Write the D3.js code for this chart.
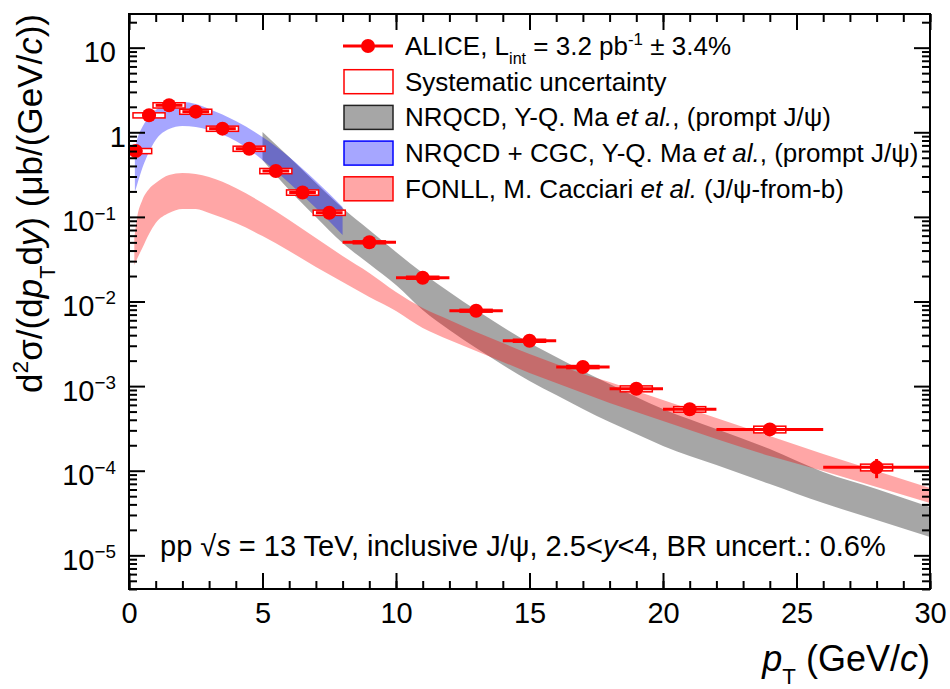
<!DOCTYPE html>
<html>
<head>
<meta charset="utf-8">
<script src="https://cdn.jsdelivr.net/npm/d3@7"></script>
<style>
  body { margin: 0; background: #fff; }
  text { font-family: "Liberation Sans", Arial, Helvetica, sans-serif; fill: #000; }
</style>
</head>
<body>
<svg id="chart" width="950" height="689"></svg>
<script>
// ALICE inclusive J/psi, pp 13 TeV, 2.5<y<4
var ptCenter = [0.25, 0.75, 1.5, 2.5, 3.5, 4.5, 5.5, 6.5, 7.5, 9, 11, 13, 15, 17, 19, 21, 24, 28];
var ptLow    = [0, 0.5, 1, 2, 3, 4, 5, 6, 7, 8, 10, 12, 14, 16, 18, 20, 22, 26];
var ptHigh   = [0.5, 1, 2, 3, 4, 5, 6, 7, 8, 10, 12, 14, 16, 18, 20, 22, 26, 30];
var xsec     = [0.601, 1.588, 2.085, 1.752, 1.104, 0.64, 0.3487, 0.1943, 0.1121, 0.0501, 0.0191,
                0.00778, 0.00344, 0.00168, 0.000931, 0.000532, 0.000308, 0.0001096];
var statErr  = [0.02, 0.04, 0.04, 0.03, 0.02, 0.012, 0.006, 0.004, 0.003, 0.0013, 0.0006,
                0.00027, 0.00014, 0.00008, 0.00005, 0.00003, 0.00002, 0.000028];
var sysErr   = [0.042, 0.11, 0.15, 0.12, 0.078, 0.045, 0.025, 0.014, 0.008, 0.002, 0.00077,
                0.0003, 0.00014, 0.00007, 0.000075, 0.00004, 0.000028, 0.00001];

// NRQCD (prompt), grey band
var nrqcdPt   = [5, 6, 7, 8, 9, 10, 11, 12, 13, 14, 15, 16, 17, 18, 19, 20, 22, 24, 26, 28, 30];
var nrqcdHigh = [1.008, 0.511, 0.2517, 0.1274, 0.07, 0.03847, 0.02173, 0.01295, 0.00793, 0.004994,
                 0.003232, 0.002208, 0.001509, 0.001059, 0.000743, 0.000536, 0.000311, 0.0001805,
                 9.65e-5, 6.08e-5, 3.72e-5];
var nrqcdLow  = [0.471, 0.208, 0.0997, 0.0491, 0.02775, 0.01567, 0.00793, 0.0046, 0.00282, 0.001776,
                 0.00115, 0.000785, 0.000536, 0.000376, 0.0002715, 0.000196, 0.0001168, 6.97e-5,
                 4.15e-5, 2.61e-5, 1.645e-5];

// NRQCD + CGC (prompt), blue band
var cgcPt   = [0.22, 0.3, 0.5, 0.75, 1, 1.5, 2, 2.5, 3, 4, 5, 6, 7, 8];
var cgcHigh = [0.618, 0.811, 1.156, 1.517, 1.835, 2.16, 2.28, 2.16, 1.886, 1.361, 0.88, 0.511, 0.2657, 0.131];
var cgcLow  = [0.197, 0.238, 0.378, 0.585, 0.811, 1.094, 1.187, 1.156, 1.065, 0.789, 0.471, 0.2517, 0.1274, 0.0611];

// FONLL (J/psi from b), red band
var fonllPt   = [0.2, 0.3, 0.5, 0.75, 1, 1.5, 2, 2.5, 3, 4, 5, 6, 7, 8, 9, 10, 11, 12, 13, 14, 15,
                 16, 17, 18, 19, 20, 22, 24, 26, 28, 30];
var fonllHigh = [0.0563, 0.097, 0.1585, 0.2138, 0.2517, 0.3128, 0.3304, 0.3214, 0.2963, 0.2196,
                 0.1459, 0.0919, 0.0563, 0.0345, 0.02173, 0.01295, 0.00838, 0.00604, 0.004359, 0.003232,
                 0.002394, 0.001825, 0.00139, 0.001117, 0.000875, 0.000685, 0.00042, 0.000257,
                 0.0001575, 9.91e-5, 6.25e-5];
var fonllLow  = [0.027, 0.0318, 0.0429, 0.0628, 0.0847, 0.1112, 0.124, 0.124, 0.1112, 0.0847,
                 0.0594, 0.0395, 0.0256, 0.017, 0.0113, 0.00773, 0.00486, 0.00351, 0.0026, 0.00193,
                 0.001428, 0.001088, 0.000829, 0.000631, 0.000494, 0.000387, 0.000237, 0.0001492,
                 9.91e-5, 6.41e-5, 4.15e-5];

var xMajor = [0, 5, 10, 15, 20, 25, 30];
var xMinor = d3.range(0, 31, 1);
var yMajor = [1e-5, 1e-4, 1e-3, 1e-2, 1e-1, 1, 10];

var svg = d3.select("#chart");
var padL = 129, padR = 930, padT = 14, padB = 589;

var x = d3.scaleLinear().domain([0, 30]).range([padL, padR]);
var y = d3.scaleLog().domain([4e-6, 25]).range([padB, padT]);

var yMinor = y.ticks().filter(function(v) {
  return yMajor.every(function(m) { return Math.abs(m - v) / m > 1e-6; });
});

// text with sub/superscripts and italics
function richText(sel, parts, size) {
  parts.forEach(function(p, i) {
    var ts = sel.append("tspan").text(p.t);
    var dy = 0;
    if (p.sub) { ts.attr("font-size", size * 0.62); dy = size * 0.36; }
    if (p.sup) { ts.attr("font-size", size * 0.65); dy = -size * 0.4; }
    var prev = i > 0 ? parts[i - 1] : null;
    var back = prev ? (prev.sub ? -size * 0.36 : prev.sup ? size * 0.4 : 0) : 0;
    if (dy + back) ts.attr("dy", dy + back);
    if (p.it) ts.attr("font-style", "italic");
  });
  return sel;
}

svg.append("clipPath").attr("id", "plot")
  .append("rect").attr("x", padL).attr("y", padT).attr("width", padR - padL).attr("height", padB - padT);

var plot = svg.append("g").attr("clip-path", "url(#plot)");

function band(pts, lo, hi) {
  return d3.area()
    .x(function(d, i) { return x(pts[i]); })
    .y0(function(d, i) { return y(lo[i]); })
    .y1(function(d, i) { return y(hi[i]); })
    .curve(d3.curveMonotoneX)(pts);
}

plot.append("path").attr("d", band(nrqcdPt, nrqcdLow, nrqcdHigh))
  .attr("fill", "#000").attr("fill-opacity", 0.35);
plot.append("path").attr("d", band(cgcPt, cgcLow, cgcHigh))
  .attr("fill", "#0000ff").attr("fill-opacity", 0.35);
plot.append("path").attr("d", band(fonllPt, fonllLow, fonllHigh))
  .attr("fill", "#ff0000").attr("fill-opacity", 0.35);

// systematic boxes
var boxHalf = 0.6;
plot.selectAll(".sys").data(ptCenter).enter().append("rect")
  .attr("x", function(d) { return x(d - boxHalf); })
  .attr("width", function(d) { return x(d + boxHalf) - x(d - boxHalf); })
  .attr("y", function(d, i) { return y(xsec[i] + sysErr[i]); })
  .attr("height", function(d, i) { return y(xsec[i] - sysErr[i]) - y(xsec[i] + sysErr[i]); })
  .attr("fill", "#fff").attr("stroke", "#ff0000").attr("stroke-width", 1.5);

// statistical bars
plot.selectAll(".hbar").data(ptCenter).enter().append("line")
  .attr("x1", function(d, i) { return x(ptLow[i]); })
  .attr("x2", function(d, i) { return x(ptHigh[i]); })
  .attr("y1", function(d, i) { return y(xsec[i]); })
  .attr("y2", function(d, i) { return y(xsec[i]); })
  .attr("stroke", "#ff0000").attr("stroke-width", 3);
plot.selectAll(".vbar").data(ptCenter).enter().append("line")
  .attr("x1", function(d) { return x(d); })
  .attr("x2", function(d) { return x(d); })
  .attr("y1", function(d, i) { return y(xsec[i] + statErr[i]); })
  .attr("y2", function(d, i) { return y(xsec[i] - statErr[i]); })
  .attr("stroke", "#ff0000").attr("stroke-width", 3);
plot.selectAll(".pt").data(ptCenter).enter().append("circle")
  .attr("cx", function(d) { return x(d); })
  .attr("cy", function(d, i) { return y(xsec[i]); })
  .attr("r", 7).attr("fill", "#ff0000");

// axes
function styleAxis(g) {
  g.select(".domain").remove();
  g.selectAll(".tick line").attr("stroke", "#000").attr("stroke-width", 2);
}
svg.append("g").attr("transform", "translate(0," + padB + ")")
  .call(d3.axisBottom(x).tickValues(xMinor).tickSize(-8).tickFormat("")).call(styleAxis);
svg.append("g").attr("transform", "translate(0," + padT + ")")
  .call(d3.axisTop(x).tickValues(xMinor).tickSize(-8).tickFormat("")).call(styleAxis);
svg.append("g").attr("transform", "translate(0," + padT + ")")
  .call(d3.axisTop(x).tickValues(xMajor).tickSize(-16).tickFormat("")).call(styleAxis);
var xAx = svg.append("g").attr("transform", "translate(0," + padB + ")")
  .call(d3.axisBottom(x).tickValues(xMajor).tickSize(-16).tickPadding(13).tickFormat(d3.format("d")))
  .call(styleAxis);
xAx.selectAll(".tick text").attr("font-size", 29);

svg.append("g").attr("transform", "translate(" + padL + ",0)")
  .call(d3.axisLeft(y).tickValues(yMinor).tickSize(-8).tickFormat("")).call(styleAxis);
svg.append("g").attr("transform", "translate(" + padR + ",0)")
  .call(d3.axisRight(y).tickValues(yMinor).tickSize(-8).tickFormat("")).call(styleAxis);
svg.append("g").attr("transform", "translate(" + padR + ",0)")
  .call(d3.axisRight(y).tickValues(yMajor).tickSize(-16).tickFormat("")).call(styleAxis);
var yAx = svg.append("g").attr("transform", "translate(" + padL + ",0)")
  .call(d3.axisLeft(y).tickValues(yMajor).tickSize(-16).tickFormat("")).call(styleAxis);
yAx.selectAll(".tick text").remove();
yAx.selectAll(".tick").each(function(d) {
  var e = Math.round(Math.log10(d));
  var t = d3.select(this).append("text").attr("text-anchor", "end")
    .attr("font-size", 29).attr("y", 14);
  if (e === 0) t.attr("x", -3).text("1");
  else if (e === 1) t.attr("x", -13).text("10");
  else {
    t.attr("x", -13);
    richText(t, [{t: "10"}, {t: "\u2212" + (-e), sup: true}], 29);
  }
});

// frame
svg.append("rect").attr("x", padL).attr("y", padT).attr("width", padR - padL).attr("height", padB - padT)
  .attr("fill", "none").attr("stroke", "#000").attr("stroke-width", 2);

// axis titles
richText(svg.append("text").attr("x", padR).attr("y", 671).attr("text-anchor", "end").attr("font-size", 36),
  [{t: "p", it: true}, {t: "T", sub: true}, {t: " (GeV/"}, {t: "c", it: true}, {t: ")"}], 36);
richText(svg.append("text").attr("transform", "translate(42," + padT + ") rotate(-90)")
  .attr("text-anchor", "end").attr("font-size", 35),
  [{t: "d"}, {t: "2", sup: true}, {t: "\u03c3/(d"}, {t: "p", it: true}, {t: "T", sub: true},
   {t: "d"}, {t: "y", it: true}, {t: ") (\u03bcb/(GeV/"}, {t: "c", it: true}, {t: "))"}], 35);

// legend
var legend = [
  {kind: "marker", parts: [{t: "ALICE, L"}, {t: "int", sub: true}, {t: " = 3.2 pb"}, {t: "-1", sup: true}, {t: " \u00b1 3.4%"}]},
  {kind: "box", fill: "#fff", op: 1, stroke: "#ff0000", parts: [{t: "Systematic uncertainty"}]},
  {kind: "box", fill: "#000", op: 0.35, stroke: "#222", parts: [{t: "NRQCD, Y-Q. Ma "}, {t: "et al.", it: true}, {t: ", (prompt J/\u03c8)"}]},
  {kind: "box", fill: "#0000ff", op: 0.35, stroke: "#0000ff", parts: [{t: "NRQCD + CGC, Y-Q. Ma "}, {t: "et al.", it: true}, {t: ", (prompt J/\u03c8)"}]},
  {kind: "box", fill: "#ff0000", op: 0.35, stroke: "#ff0000", parts: [{t: "FONLL, M. Cacciari "}, {t: "et al.", it: true}, {t: " (J/\u03c8-from-b)"}]}
];
var lg = svg.append("g");
legend.forEach(function(L, i) {
  var cy = 46 + i * 35.7;
  if (L.kind === "marker") {
    lg.append("line").attr("x1", 343).attr("x2", 393).attr("y1", cy).attr("y2", cy)
      .attr("stroke", "#ff0000").attr("stroke-width", 3);
    lg.append("circle").attr("cx", 368).attr("cy", cy).attr("r", 7).attr("fill", "#ff0000");
  } else {
    lg.append("rect").attr("x", 344).attr("y", cy - 12).attr("width", 49).attr("height", 24)
      .attr("fill", "#fff");
    lg.append("rect").attr("x", 344).attr("y", cy - 12).attr("width", 49).attr("height", 24)
      .attr("fill", L.fill).attr("fill-opacity", L.op).attr("stroke", L.stroke).attr("stroke-width", 1.5);
  }
  richText(lg.append("text").attr("x", 405).attr("y", cy + 9).attr("font-size", 26), L.parts, 26);
});

// caption
richText(svg.append("text").attr("x", 160).attr("y", 556).attr("font-size", 29),
  [{t: "pp \u221a"}, {t: "s", it: true}, {t: " = 13 TeV, inclusive J/\u03c8, 2.5<"}, {t: "y", it: true},
   {t: "<4, BR uncert.: 0.6%"}], 29);
</script>
</body>
</html>
